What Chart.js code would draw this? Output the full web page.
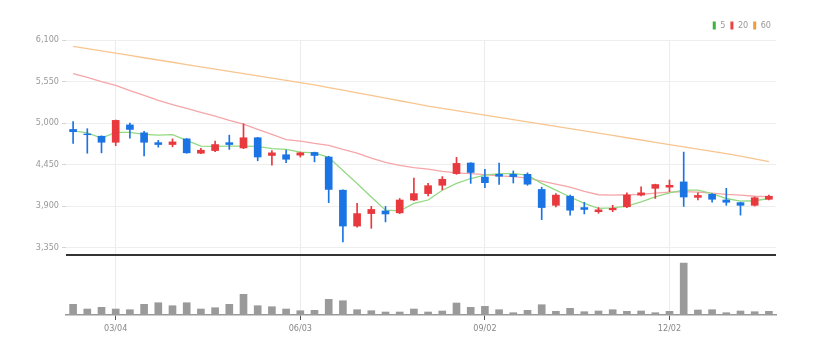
<!DOCTYPE html>
<html>
<head>
<meta charset="utf-8">
<script src="https://cdn.jsdelivr.net/npm/chart.js@4.4.1/dist/chart.umd.min.js"></script>
<style>
  html, body { margin: 0; padding: 0; background: #fff; }
</style>
</head>
<body>
<canvas id="myChart" width="827" height="354"></canvas>
<script>
// weekly candles, 2019-02-11 .. 2020-01-20
var labels = ['02/11', '02/18', '02/25', '03/04', '03/11', '03/18', '03/25', '04/01', '04/08', '04/15',
  '04/22', '04/29', '05/06', '05/13', '05/20', '05/27', '06/03', '06/10', '06/17', '06/24',
  '07/01', '07/08', '07/15', '07/22', '07/29', '08/05', '08/12', '08/19', '08/26', '09/02',
  '09/09', '09/16', '09/23', '09/30', '10/07', '10/14', '10/21', '10/28', '11/04', '11/11',
  '11/18', '11/25', '12/02', '12/09', '12/16', '12/23', '12/30', '01/06', '01/13', '01/20'];
var tickLabels = ['03/04', '06/03', '09/02', '12/02'];
var priceTicks = [3350, 3900, 4450, 5000, 5550, 6100];

var open = [4915, 4855, 4825, 4745, 4975, 4870, 4740, 4715, 4790, 4600,
  4635, 4740, 4670, 4805, 4570, 4580, 4575, 4610, 4550, 4110,
  3635, 3800, 3835, 3810, 3980, 4065, 4175, 4330, 4470, 4285,
  4320, 4320, 4320, 4120, 3910, 4030, 3880, 3825, 3850, 3890,
  4045, 4135, 4150, 4220, 4015, 4055, 3980, 3945, 3910, 3990];
var high = [5020, 4925, 4830, 5040, 5000, 4890, 4770, 4790, 4795, 4665,
  4760, 4840, 4990, 4810, 4635, 4640, 4615, 4615, 4560, 4115,
  3935, 3895, 3895, 4000, 4270, 4200, 4290, 4545, 4475, 4385,
  4470, 4365, 4340, 4150, 4065, 4045, 3950, 3880, 3910, 4075,
  4155, 4190, 4245, 4615, 4075, 4065, 4135, 3950, 4020, 4045];
var low = [4730, 4600, 4605, 4700, 4800, 4565, 4680, 4685, 4600, 4595,
  4620, 4650, 4660, 4500, 4440, 4475, 4550, 4485, 3945, 3425,
  3620, 3605, 3690, 3800, 3970, 4035, 4115, 4320, 4200, 4145,
  4185, 4205, 4175, 3720, 3890, 3780, 3795, 3805, 3825, 3880,
  4035, 4000, 4090, 3895, 3980, 3950, 3910, 3780, 3900, 3980];
var close = [4885, 4845, 4745, 5035, 4915, 4745, 4715, 4750, 4605, 4640,
  4715, 4715, 4805, 4550, 4605, 4520, 4605, 4570, 4120, 3635,
  3800, 3855, 3795, 3980, 4065, 4170, 4255, 4465, 4345, 4210,
  4295, 4290, 4190, 3880, 4045, 3845, 3855, 3850, 3870, 4045,
  4075, 4185, 4175, 4020, 4040, 3990, 3950, 3910, 4010, 4030];
var volume = [214000, 120000, 154000, 120000, 106000, 214000, 246000, 186000, 246000, 120000,
  146000, 214000, 414000, 186000, 166000, 120000, 86000, 94000, 314000, 286000,
  106000, 86000, 60000, 60000, 120000, 60000, 80000, 240000, 154000, 174000,
  106000, 46000, 94000, 206000, 74000, 134000, 66000, 80000, 106000, 74000,
  80000, 46000, 74000, 1040000, 100000, 106000, 46000, 80000, 66000, 74000];

// moving averages
var ma5 = [4895, 4870, 4800, 4875, 4875, 4850, 4840, 4845, 4770, 4695,
  4690, 4695, 4695, 4690, 4660, 4650, 4615, 4605, 4545, 4370,
  4200, 4020, 3845, 3835, 3935, 3980, 4110, 4200, 4265, 4310,
  4330, 4330, 4310, 4200, 4110, 4020, 3935, 3870, 3875, 3900,
  3955, 4020, 4075, 4110, 4110, 4065, 4000, 3965, 3970, 4000];
var ma20 = [5655, 5605, 5550, 5500, 5430, 5365, 5300, 5245, 5195, 5140,
  5090, 5035, 4985, 4915, 4850, 4780, 4760, 4730, 4705, 4650,
  4600, 4535, 4480, 4440, 4410, 4390, 4360, 4340, 4330, 4315,
  4300, 4290, 4270, 4230, 4190, 4150, 4095, 4050, 4045, 4050,
  4055, 4070, 4085, 4090, 4085, 4070, 4055, 4045, 4030, 4025];
var ma60 = [6015, 5985, 5955, 5925, 5895, 5865, 5835, 5805, 5775, 5745,
  5715, 5685, 5655, 5625, 5595, 5565, 5535, 5505, 5470, 5435,
  5400, 5365, 5330, 5295, 5260, 5225, 5195, 5165, 5135, 5105,
  5075, 5045, 5015, 4985, 4955, 4925, 4895, 4865, 4835, 4805,
  4775, 4745, 4715, 4685, 4655, 4625, 4595, 4560, 4525, 4490];

var volMax = 1200000;
var upColor = '#e8393e';
var downColor = '#1b74e4';
var legendColors = ['#3cb43c', '#e84444', '#f09a3a'];
var font = { family: "'DejaVu Sans Condensed', 'Liberation Sans Narrow', 'Roboto Condensed', 'Liberation Sans', sans-serif", size: 9 };

var candleColors = close.map(function (c, i) { return c >= open[i] ? upColor : downColor; });
var wicks = low.map(function (l, i) { return [l, high[i]]; });
var bodies = open.map(function (o, i) { return [o, close[i]]; });

function isShown(i) { return tickLabels.indexOf(labels[i]) >= 0; }

var ctx = document.getElementById('myChart').getContext('2d');

var myChart = new Chart(ctx, {
  type: 'bar',
  data: {
    labels: labels,
    datasets: [
      { type: 'line', label: '5', data: ma5, borderColor: '#93d983', borderWidth: 1.3, pointRadius: 0, yAxisID: 'y', order: 5 },
      { type: 'line', label: '20', data: ma20, borderColor: '#f5a6a8', borderWidth: 1.3, pointRadius: 0, yAxisID: 'y', order: 5 },
      { type: 'line', label: '60', data: ma60, borderColor: '#f8c590', borderWidth: 1.3, pointRadius: 0, yAxisID: 'y', order: 5 },
      { label: 'wick', data: wicks, backgroundColor: candleColors, barThickness: 1, grouped: false, yAxisID: 'y', order: 2 },
      { label: 'body', data: bodies, backgroundColor: candleColors, barThickness: 7, grouped: false, yAxisID: 'y', order: 1 },
      { label: 'volume', data: volume, backgroundColor: '#9a9a9a', barThickness: 7, grouped: false, yAxisID: 'yv', order: 1 }
    ]
  },
  options: {
    responsive: false,
    animation: false,
    layout: { padding: { left: 0, right: 51, top: 16, bottom: 0 } },
    plugins: {
      tooltip: { enabled: false },
      legend: {
        position: 'top',
        align: 'end',
        labels: {
          boxWidth: 3,
          boxHeight: 8,
          padding: 5,
          color: '#999',
          font: font,
          generateLabels: function (chart) {
            return legendColors.map(function (c, i) {
              return { text: chart.data.datasets[i].label, fillStyle: c, strokeStyle: c, lineWidth: 0, fontColor: '#999', hidden: false, datasetIndex: i };
            });
          }
        }
      }
    },
    scales: {
      x: {
        offset: true,
        grid: {
          offset: false,
          tickLength: 5,
          color: function (c) { return isShown(c.index) ? '#ececec' : 'rgba(0,0,0,0)'; },
          tickColor: function (c) { return isShown(c.index) ? '#555' : 'rgba(0,0,0,0)'; }
        },
        border: { color: '#999', width: 1.5 },
        ticks: {
          autoSkip: false,
          maxRotation: 0,
          padding: 3,
          color: '#888',
          font: font,
          callback: function (v, i) { return isShown(i) ? labels[i] : ''; }
        },
        afterFit: function (s) { s.height = 39; }
      },
      yv: {
        position: 'left',
        stack: 'panes',
        stackWeight: 60,
        min: 0,
        max: volMax,
        afterBuildTicks: function (s) { s.ticks = [{ value: 0 }, { value: volMax }]; },
        grid: {
          drawTicks: false,
          lineWidth: 2,
          color: function (c) { return c.tick && c.tick.value === volMax ? '#333' : 'rgba(0,0,0,0)'; }
        },
        border: { display: false },
        ticks: { display: false },
        afterFit: function (s) { s.width = 66; }
      },
      y: {
        position: 'left',
        stack: 'panes',
        stackWeight: 215.5,
        min: 3250,
        max: 6100,
        afterBuildTicks: function (s) { s.ticks = priceTicks.map(function (v) { return { value: v }; }); },
        grid: { color: '#eeeeee', tickColor: '#d5d5d5', tickLength: 4 },
        border: { display: false },
        ticks: {
          color: '#999',
          font: font,
          padding: 3,
          callback: function (v) { return v.toLocaleString('en-US'); }
        },
        afterFit: function (s) { s.width = 66; }
      }
    }
  }
});
</script>
</body>
</html>
